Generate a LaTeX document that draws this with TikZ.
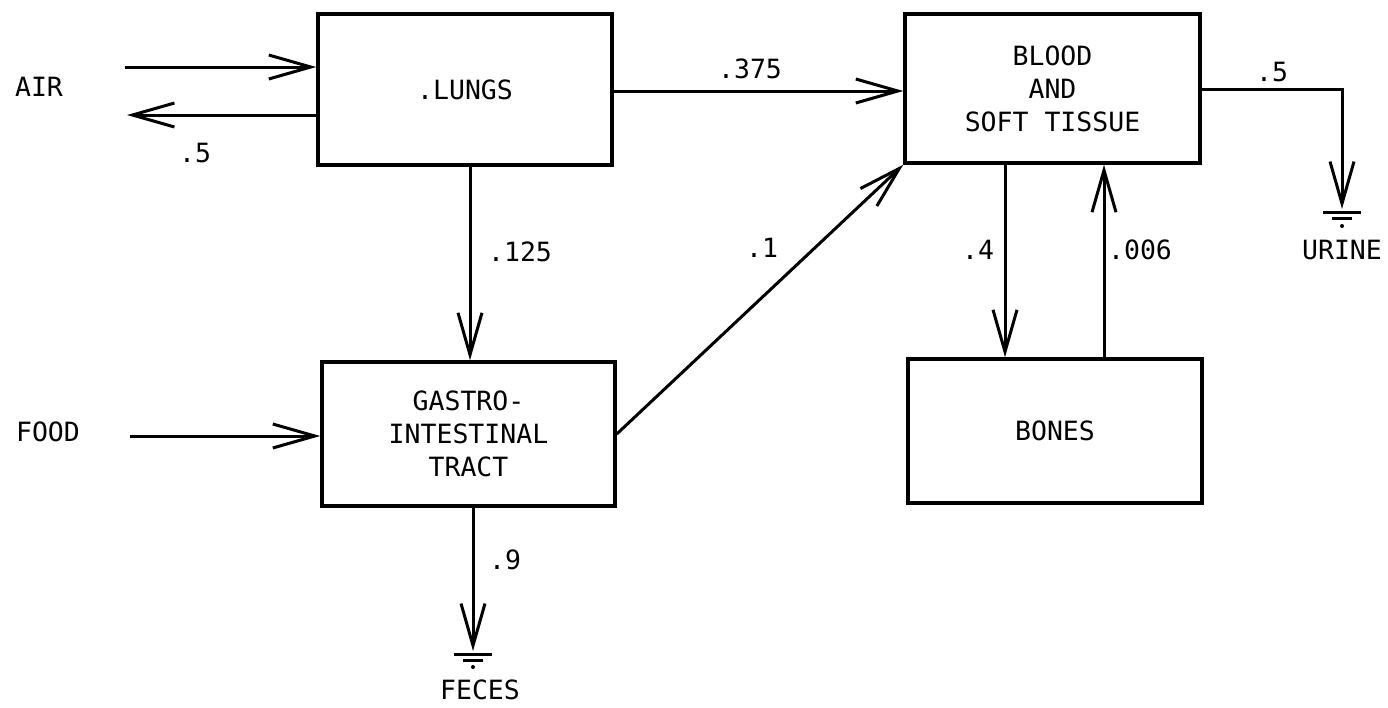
\documentclass[tikz,border=0pt]{standalone}
\usepackage{fontspec}
\newfontfamily\lblfont{DejaVu Sans Mono}
\usetikzlibrary{arrows.meta}
\begin{document}
\begin{tikzpicture}[x=1pt,y=-1pt,
  txt/.style={font=\lblfont\fontsize{26.5}{33}\selectfont, inner sep=0pt, align=center},
  box/.style={txt, draw, line width=3.5pt},
  arr/.style={line width=3pt, -{Straight Barb[length=42pt,width=24pt]}},
  ln/.style={line width=3pt}]
\useasboundingbox (0,0) rectangle (1388,707);
% boxes
\node[box, minimum width=294pt, minimum height=151pt] (lungs) at (465,89.5) {.LUNGS};
\node[box, minimum width=295pt, minimum height=149pt] (blood) at (1052.5,88.5) {BLOOD\\AND\\SOFT TISSUE};
\node[box, minimum width=293pt, minimum height=144pt] (gi) at (468.5,434) {GASTRO-\\INTESTINAL\\TRACT};
\node[box, minimum width=294pt, minimum height=144pt] (bones) at (1055,431) {BONES};
% free ends
\coordinate (airin) at (125,67);
\coordinate (airout) at (127,115);
\coordinate (foodin) at (130,436);
\coordinate (y375) at (0,91);
\coordinate (x125) at (470,0);
\coordinate (x4) at (1005,0);
\coordinate (x006) at (1104,0);
\coordinate (ucorner) at (1342,89);
\coordinate (uground) at (1342,209);
\coordinate (fground) at (473,651);
% connectors
\draw[arr] (airin) -- (airin -| lungs.west);
\draw[arr] (lungs.west |- airout) -- (airout);
\draw[arr] (foodin) -- (foodin -| gi.west);
\draw[arr] (lungs.east |- y375) -- (blood.west |- y375);
\draw[arr] (lungs.south -| x125) -- (gi.north -| x125);
\draw[arr] (gi.east) -- (blood.south west);
\draw[arr] (blood.south -| x4) -- (bones.north -| x4);
\draw[arr] (bones.north -| x006) -- (blood.south -| x006);
\draw[arr] (blood.east |- ucorner) -- (ucorner) -- (uground);
\draw[arr] (gi.south -| fground) -- (fground);
% ground symbols
\draw[ln] (uground) ++(-19,3) -- ++(38,0);
\draw[ln] (uground) ++(-10,9) -- ++(20,0);
\fill (uground) ++(0,17) circle (2pt);
\draw[ln] (fground) ++(-19,3) -- ++(38,0);
\draw[ln] (fground) ++(-10,9) -- ++(20,0);
\fill (fground) ++(0,16) circle (2pt);
% labels
\node[txt] (air) at (39,87) {AIR};
\node[txt] (food) at (48,432) {FOOD};
\node[txt] (l5a) at (195,153) {.5};
\node[txt] (l375) at (750,69) {.375};
\node[txt] (l125) at (520,252) {.125};
\node[txt] (l1) at (762,248) {.1};
\node[txt] (l4) at (978,250) {.4};
\node[txt] (l006) at (1140,250) {.006};
\node[txt] (l5b) at (1272,72) {.5};
\node[txt] (l9) at (505,560) {.9};
\node[txt] (urine) at (1342,250) {URINE};
\node[txt] (feces) at (480,690) {FECES};
\end{tikzpicture}
\end{document}
